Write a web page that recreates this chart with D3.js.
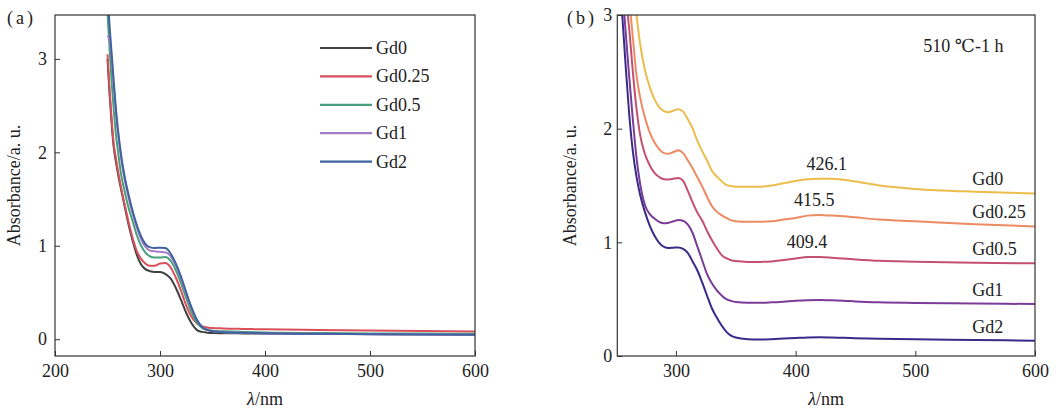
<!DOCTYPE html>
<html lang="zh">
<head>
  <meta charset="UTF-8">
  <title>Absorbance spectra</title>
  <script src="https://d3js.org/d3.v7.min.js"></script>
  <style>
    html, body { margin: 0; padding: 0; background: #fff; }
    svg { display: block; font-family: "Liberation Serif", "DejaVu Serif", serif; }
    .tick text { font-family: "Liberation Serif", "DejaVu Serif", serif; font-size: 18px; fill: #222; }
    .tick line { stroke: #333; stroke-width: 1; }
    .frame { fill: none; stroke: #333; stroke-width: 1.2; }
    .lbl { font-size: 18px; fill: #222; }
    .curve { fill: none; stroke-width: 2; stroke-linejoin: round; }
  </style>
</head>
<body>
<svg width="1056" height="409"></svg>
<script>
// ---------- data, panel (a) ----------
const seriesNames = ["Gd0", "Gd0.25", "Gd0.5", "Gd1", "Gd2"];

const waveA = [250, 252, 254, 256, 258, 260, 263, 266, 270, 274, 278, 282, 286, 290, 295, 300,
  305, 310, 315, 320, 325, 330, 335, 340, 345, 350, 360, 380, 400, 450, 500, 550, 600];

const aGd0 = [3.0, 2.62, 2.3, 2.05, 1.9, 1.77, 1.6, 1.44, 1.23, 1.05, 0.9, 0.8, 0.75, 0.73, 0.72, 0.72,
  0.7, 0.65, 0.55, 0.42, 0.28, 0.17, 0.1, 0.078, 0.07, 0.066, 0.064, 0.062, 0.06, 0.058, 0.055, 0.052, 0.05];
const aGd025 = [3.05, 2.67, 2.35, 2.08, 1.94, 1.8, 1.62, 1.46, 1.26, 1.08, 0.94, 0.86, 0.81, 0.785, 0.785, 0.81,
  0.815, 0.77, 0.66, 0.52, 0.36, 0.24, 0.17, 0.14, 0.125, 0.12, 0.115, 0.11, 0.105, 0.098, 0.092, 0.087, 0.083];
const aGd05 = [3.5, 3.1, 2.75, 2.45, 2.19, 2.01, 1.76, 1.6, 1.41, 1.26, 1.11, 1.0, 0.93, 0.89, 0.875, 0.875,
  0.88, 0.84, 0.74, 0.6, 0.44, 0.29, 0.18, 0.12, 0.1, 0.09, 0.085, 0.078, 0.072, 0.066, 0.062, 0.06, 0.058];
const aGd1 = [3.25, 3.2, 3.0, 2.7, 2.42, 2.2, 1.93, 1.73, 1.52, 1.34, 1.19, 1.07, 0.99, 0.95, 0.94, 0.935,
  0.93, 0.89, 0.79, 0.65, 0.49, 0.33, 0.21, 0.13, 0.1, 0.085, 0.075, 0.068, 0.062, 0.057, 0.053, 0.05, 0.048];
const aGd2 = [3.7, 3.35, 3.05, 2.75, 2.47, 2.24, 1.97, 1.76, 1.55, 1.37, 1.22, 1.1, 1.02, 0.985, 0.975, 0.98,
  0.975, 0.92, 0.81, 0.67, 0.5, 0.34, 0.21, 0.13, 0.1, 0.085, 0.075, 0.068, 0.063, 0.058, 0.054, 0.05, 0.047];

const colorsA = ["#404040", "#d9505a", "#47a07a", "#a47cc8", "#40629e"];
const xTicksA = [200, 300, 400, 500, 600];
const yTicksA = [0, 1, 2, 3];

// ---------- data, panel (b) ----------
const waveB = [252, 255, 258, 261, 264, 267, 270, 274, 278, 282, 286, 290, 294, 298, 302, 306, 310, 314,
  318, 322, 326, 330, 334, 338, 342, 346, 350, 360, 370, 380, 390, 400, 410, 420, 430, 440, 450, 470, 500, 550, 600];

const bGd0 = [4.6, 4.2, 3.85, 3.5, 3.22, 3.0, 2.75, 2.52, 2.37, 2.26, 2.19, 2.155, 2.145, 2.16, 2.17, 2.15, 2.08, 2.0,
  1.89, 1.8, 1.72, 1.63, 1.58, 1.54, 1.505, 1.495, 1.49, 1.49, 1.49, 1.5, 1.52, 1.54, 1.555, 1.56, 1.56, 1.55, 1.535, 1.5, 1.47, 1.445, 1.43];
const bGd025 = [3.9, 3.6, 3.35, 3.12, 2.8, 2.47, 2.28, 2.1, 1.97, 1.88, 1.82, 1.785, 1.78, 1.795, 1.81, 1.785, 1.72, 1.65,
  1.57, 1.49, 1.4, 1.32, 1.27, 1.24, 1.215, 1.195, 1.185, 1.18, 1.18, 1.185, 1.2, 1.215, 1.235, 1.24, 1.235, 1.23, 1.22, 1.2, 1.185, 1.16, 1.14];
const bGd05 = [3.6, 3.35, 3.15, 2.87, 2.5, 2.18, 1.95, 1.78, 1.68, 1.61, 1.575, 1.555, 1.553, 1.56, 1.565, 1.54, 1.45, 1.35,
  1.26, 1.19, 1.1, 1.02, 0.95, 0.89, 0.86, 0.843, 0.835, 0.828, 0.828, 0.832, 0.845, 0.858, 0.87, 0.87, 0.865, 0.857, 0.85, 0.838, 0.83, 0.82, 0.815];
const bGd1 = [3.55, 3.25, 2.85, 2.45, 2.08, 1.75, 1.52, 1.33, 1.25, 1.21, 1.18, 1.167, 1.172, 1.185, 1.196, 1.19, 1.155, 1.08,
  0.96, 0.84, 0.72, 0.64, 0.58, 0.535, 0.5, 0.485, 0.475, 0.468, 0.468, 0.472, 0.478, 0.485, 0.49, 0.492, 0.49, 0.486, 0.48, 0.472, 0.467, 0.462, 0.457];
const bGd2 = [3.4, 3.02, 2.55, 2.12, 1.8, 1.58, 1.42, 1.27, 1.15, 1.06, 0.995, 0.96, 0.95, 0.953, 0.955, 0.942, 0.905, 0.83,
  0.75, 0.645, 0.53, 0.42, 0.34, 0.27, 0.215, 0.18, 0.163, 0.148, 0.145, 0.148, 0.153, 0.158, 0.163, 0.165, 0.163, 0.16, 0.157, 0.152, 0.147, 0.141, 0.135];

const colorsB = ["#ebbd4a", "#ec8a62", "#c4506f", "#7a3c98", "#3a2a8a"];
const xTicksB = [300, 400, 500, 600];
const yTicksB = [0, 1, 2, 3];

const peakLabels = ["426.1", "415.5", "409.4"];
const peakWave = [426.1, 415.5, 409.4];
const condition = "510 ℃-1 h";

// ---------- drawing ----------
const svg = d3.select("svg");

function panel(opt) {
  const g = svg.append("g").attr("transform", `translate(${opt.left},${opt.top})`);
  const w = opt.right - opt.left, h = opt.bottom - opt.top;
  const x = d3.scaleLinear().domain(opt.xDomain).range([0, w]);
  const y = d3.scaleLinear().domain(opt.yDomain).range([h, 0]);

  g.append("clipPath").attr("id", opt.id + "-clip")
    .append("rect").attr("width", w).attr("height", h);

  const line = d3.line()
    .x((d, i) => x(opt.wave[i]))
    .y(d => y(d))
    .curve(d3.curveMonotoneX);

  g.append("g").attr("clip-path", `url(#${opt.id}-clip)`)
    .selectAll("path")
    .data(opt.series)
    .join("path")
    .attr("class", "curve")
    .attr("stroke", (d, i) => opt.colors[i])
    .attr("d", d => line(d));

  // axes: ticks point inward, the frame replaces the domain lines
  const xa = g.append("g").attr("transform", `translate(0,${h})`)
    .call(d3.axisBottom(x).tickValues(opt.xTicks).tickSize(-5).tickPadding(8).tickFormat(d3.format("d")));
  xa.attr("font-family", null).attr("font-size", null);
  xa.select(".domain").remove();

  const ya = g.append("g")
    .call(d3.axisLeft(y).tickValues(opt.yTicks).tickSize(-5).tickPadding(opt.yPad).tickFormat(d3.format("d")));
  ya.attr("font-family", null).attr("font-size", null);
  ya.select(".domain").remove();

  g.append("rect").attr("class", "frame").attr("width", w).attr("height", h);

  // axis titles
  g.append("text").attr("class", "lbl")
    .attr("transform", `translate(${opt.yTitleX},${h / 2}) rotate(-90)`)
    .attr("text-anchor", "middle")
    .text("Absorbance/a. u.");

  const xt = g.append("text").attr("class", "lbl")
    .attr("x", w / 2).attr("y", 405 - opt.top)
    .attr("text-anchor", "middle");
  xt.append("tspan").attr("font-style", "italic").text("λ");
  xt.append("tspan").text("/nm");

  return { g, x, y, w, h };
}

// panel (a)
const pa = panel({
  id: "a", left: 55, right: 475, top: 15, bottom: 356,
  xDomain: [200, 600], yDomain: [-0.18, 3.47],
  wave: waveA, series: [aGd0, aGd025, aGd05, aGd1, aGd2], colors: colorsA,
  xTicks: xTicksA, yTicks: yTicksA, yPad: 8, yTitleX: -35
});

svg.append("text").attr("class", "lbl").attr("x", 7).attr("y", 24)
  .attr("letter-spacing", 3).text("(a)");

// legend (a)
const leg = pa.g.append("g").attr("transform", "translate(265,33)");
seriesNames.forEach((name, i) => {
  const row = leg.append("g").attr("transform", `translate(0,${i * 28.4})`);
  row.append("line").attr("x1", 0).attr("x2", 52).attr("y1", 0).attr("y2", 0)
    .attr("stroke", colorsA[i]).attr("stroke-width", 2.2);
  row.append("text").attr("class", "lbl").attr("x", 56).attr("y", 6).text(name);
});

// panel (b)
const pb = panel({
  id: "b", left: 617.3, right: 1035, top: 15, bottom: 356,
  xDomain: [251, 600], yDomain: [0, 3],
  wave: waveB, series: [bGd0, bGd025, bGd05, bGd1, bGd2], colors: colorsB,
  xTicks: xTicksB, yTicks: yTicksB, yPad: 5, yTitleX: -41
});

svg.append("text").attr("class", "lbl").attr("x", 567).attr("y", 24)
  .attr("letter-spacing", 3).text("(b)");

pb.g.append("text").attr("class", "lbl").attr("x", 306).attr("y", 37).text(condition);

// series labels at right end of panel (b)
const bSeries = [bGd0, bGd025, bGd05, bGd1, bGd2];
seriesNames.forEach((name, i) => {
  const last = bSeries[i][bSeries[i].length - 1];
  pb.g.append("text").attr("class", "lbl")
    .attr("x", 355).attr("y", pb.y(last) - 8).text(name);
});

// peak wavelength labels
peakLabels.forEach((t, i) => {
  const s = bSeries[i];
  const j = d3.bisectLeft(waveB, peakWave[i]);
  const v = s[Math.min(j, s.length - 1)];
  pb.g.append("text").attr("class", "lbl")
    .attr("x", pb.x(peakWave[i])).attr("y", pb.y(v) - 9)
    .attr("text-anchor", "middle").text(t);
});
</script>
</body>
</html>
